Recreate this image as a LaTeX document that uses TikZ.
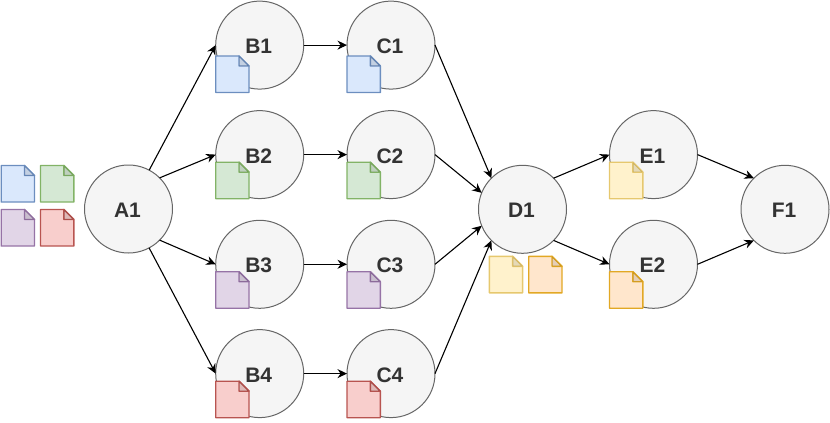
\documentclass[tikz,border=0pt]{standalone}
\usepackage{fontspec}
\setmainfont{Liberation Sans}
\usepackage{xcolor}
\usetikzlibrary{arrows.meta}

\definecolor{cfill}{HTML}{F5F5F5}
\definecolor{cline}{HTML}{666666}
\definecolor{ctext}{HTML}{333333}

\tikzset{
    circ/.style={circle, draw=cline, fill=cfill, text=ctext, line width=1pt, minimum size=88pt, inner sep=0, outer sep=0, text height=17pt, text depth=0, font=\fontsize{21}{22}\selectfont\bfseries, execute at end node={\kern2pt}},
    link/.style={-{Stealth[length=9.5pt, width=9pt]}, line width=1.1pt, black},
    docblue/.style={draw={rgb,255:red,108;green,142;blue,191}, fill={rgb,255:red,218;green,232;blue,252}},
    docgreen/.style={draw={rgb,255:red,130;green,179;blue,102}, fill={rgb,255:red,213;green,232;blue,212}},
    docpurple/.style={draw={rgb,255:red,150;green,115;blue,166}, fill={rgb,255:red,225;green,213;blue,231}},
    docred/.style={draw={rgb,255:red,184;green,84;blue,80}, fill={rgb,255:red,248;green,206;blue,204}},
    docyellow/.style={draw={rgb,255:red,230;green,200;blue,110}, fill={rgb,255:red,255;green,242;blue,204}},
    docorange/.style={draw={rgb,255:red,226;green,168;blue,36}, fill={rgb,255:red,255;green,230;blue,204}},
    docpage/.pic={
        \draw[pic actions, line width=1.4pt, line join=round] (0,0) -- (23.3,0) -- (33.3,10) -- (33.3,36.5) -- (0,36.5) -- cycle;
        \draw[pic actions, line width=1.4pt, line join=round] (23.3,0) -- (23.3,10) -- (33.3,10) -- cycle;
        \fill[black, opacity=0.1] (23.3,0) -- (23.3,10) -- (33.3,10) -- cycle;
    }
}

\begin{document}
\begin{tikzpicture}[x=1pt, y=-1pt]
    \useasboundingbox (0,0) rectangle (830,423);

    \node[circ] (A1) at (128.5,209) {A1};
    \foreach \n/\y in {1/45.1, 2/154.6, 3/264.3, 4/373.6} {
        \node[circ] (B\n) at (259.7,\y) {B\n};
        \node[circ] (C\n) at (391,\y) {C\n};
    }
    \node[circ] (D1) at (522.5,209.3) {D1};
    \node[circ] (E1) at (653.5,154.6) {E1};
    \node[circ] (E2) at (653.5,264.3) {E2};
    \node[circ] (F1) at (785,209.3) {F1};

    % source documents
    \pic[docblue] (srcblue) at (1.2,165.5) {docpage};
    \pic[docgreen] (srcgreen) at (40.5,165.5) {docpage};
    \pic[docpurple] (srcpurple) at (1.2,209.5) {docpage};
    \pic[docred] (srcred) at (40.5,209.5) {docpage};

    % documents on the branches
    \foreach \n/\t/\s in {1/56/docblue, 2/162.2/docgreen, 3/271.7/docpurple, 4/381.2/docred} {
        \pic[\s] (docb\n) at (215.7,\t) {docpage};
        \pic[\s] (docc\n) at (347,\t) {docpage};
    }
    \pic[docyellow] (docd1) at (489.3,256.3) {docpage};
    \pic[docorange] (docd2) at (528.7,256.3) {docpage};
    \pic[docyellow] (doce1) at (609.5,162.2) {docpage};
    \pic[docorange] (doce2) at (609.5,271.7) {docpage};

    % A1 to B, B to C
    \draw[link] (A1) -- (B1.west);
    \draw[link] (A1.45) -- (B2.west);
    \draw[link] (A1.-45) -- (B3.west);
    \draw[link] (A1) -- (B4.west);
    \foreach \n in {1,2,3,4} \draw[link] (B\n.east) -- (C\n.west);

    % C to D1
    \draw[link] (C1.east) -- (D1.135);
    \draw[link] (C2.east) -- (D1.158);
    \draw[link] (C3.east) -- (D1.202);
    \draw[link] (C4.east) -- (D1.225);

    % D1 to F1
    \draw[link] (D1.45) -- (E1.west);
    \draw[link] (D1.-45) -- (E2.west);
    \draw[link] (E1.east) -- (F1.135);
    \draw[link] (E2.east) -- (F1.225);
\end{tikzpicture}
\end{document}
